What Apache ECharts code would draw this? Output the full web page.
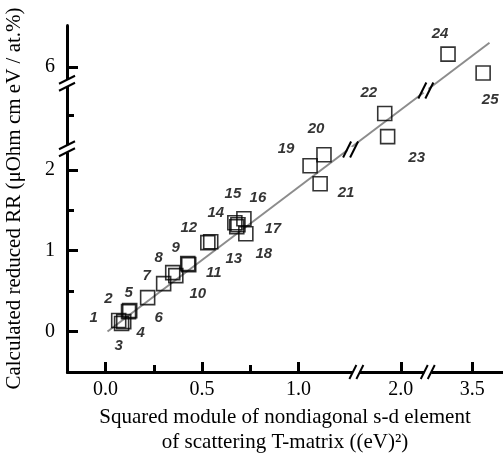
<!DOCTYPE html>
<html>
<head>
<meta charset="utf-8">
<script src="https://cdn.jsdelivr.net/npm/echarts@6.0.0/dist/echarts.min.js"></script>
<style>
    html, body {margin: 0; padding: 0; background: #fff;}
    #main {width: 503px; height: 459px;}
</style>
</head>
<body>
<div id="main"></div>
<script>
    // data
    var names = ['1', '2', '3', '4', '5', '6', '7', '8', '9', '10', '11', '12', '13',
        '14', '15', '16', '17', '18', '19', '20', '21', '22', '23', '24', '25'];
    var tSquared = [0.068, 0.119, 0.083, 0.094, 0.125, 0.218, 0.301, 0.348, 0.426, 0.364, 0.431, 0.530, 0.545,
        0.670, 0.686, 0.717, 0.680, 0.727, 1.060, 1.132, 1.112, 1.917, 1.932, 3.375, 3.557];
    var reducedRR = [0.136, 0.247, 0.099, 0.123, 0.259, 0.420, 0.593, 0.728, 0.840, 0.691, 0.827, 1.099, 1.111,
        1.346, 1.321, 1.395, 1.296, 1.210, 2.050, 2.185, 1.827, 3.525, 3.240, 6.160, 5.926];
    var fitX = [0.01, 3.59];
    var fitY = [0.0, 6.30];
    var xTicks = [0, 0.5, 1.0, 2.0, 3.5];
    var xMinorTicks = [0.25, 0.75];
    var yTicks = [0, 1, 2, 6];
    var yMinorTicks = [0.5, 1.5, 3.5];
    var xBreaks = [[1.3, 1.77], [2.14, 3.27]];
    var yBreaks = [[2.26, 3.09], [3.9, 5.8]];

    // where each number sits relative to its square (px)
    var labelOffset = [[-25, -3], [-20, -13], [-3, 22], [17, 11], [-1, -18], [11, 20], [-17, -8], [-14, -15],
        [-12, -16], [22, 18], [25, 8], [-19, -15], [23, 17], [-19, -10], [-5, -31], [14, -21], [36, 2],
        [18, 20], [-24, -17], [-8, -26], [26, 9], [-16, -21], [29, 21], [-8, -20], [7, 27]];

    var X_MIN = -0.2, X_MAX = 3.66, Y_MIN = -0.5, Y_MAX = 6.52;
    var serif = '"Liberation Serif", "DejaVu Serif", serif';

    function brk(list) {
        return list.map(function (b) {
            return {start: b[0], end: b[1], gap: 0};
        });
    }

    // "//" marks: kind 0 on x axis, 1 on y axis, 2 on the fitted line
    var breakMarks = [];
    xBreaks.forEach(function (b) { breakMarks.push([b[0], Y_MIN, 0]); });
    yBreaks.forEach(function (b) { breakMarks.push([X_MIN, b[0], 1]); });
    breakMarks.push([1.27, 2.25, 2]);
    breakMarks.push([2.13, 3.81, 2]);

    function renderBreak(params, api) {
        var p = api.coord([api.value(0), api.value(1)]);
        var kind = api.value(2);
        var children = [];
        var stroke = {stroke: '#000', lineWidth: 2};
        var i, off;
        if (kind === 0) {
            children.push({type: 'rect', shape: {x: p[0] - 3.5, y: p[1] - 3, width: 7, height: 6}, style: {fill: '#fff'}});
            for (i = 0; i < 2; i++) {
                off = i === 0 ? -3.5 : 3.5;
                children.push({type: 'line', shape: {x1: p[0] + off - 3.5, y1: p[1] + 7, x2: p[0] + off + 3.5, y2: p[1] - 7}, style: stroke});
            }
        } else if (kind === 1) {
            children.push({type: 'rect', shape: {x: p[0] - 3, y: p[1] - 3.5, width: 6, height: 7}, style: {fill: '#fff'}});
            for (i = 0; i < 2; i++) {
                off = i === 0 ? -3.5 : 3.5;
                children.push({type: 'line', shape: {x1: p[0] - 8, y1: p[1] + off + 4, x2: p[0] + 8, y2: p[1] + off - 4}, style: stroke});
            }
        } else {
            children.push({type: 'circle', shape: {cx: p[0], cy: p[1], r: 3}, style: {fill: '#fff'}});
            for (i = 0; i < 2; i++) {
                off = i === 0 ? -3.5 : 3.5;
                children.push({type: 'line', shape: {x1: p[0] + off - 4, y1: p[1] + 8, x2: p[0] + off + 4, y2: p[1] - 8}, style: stroke});
            }
        }
        return {type: 'group', children: children};
    }

    var xBase = {type: 'value', min: X_MIN, max: X_MAX, breaks: brk(xBreaks), breakArea: {show: false},
        splitLine: {show: false}, position: 'bottom', gridIndex: 0};
    var yBase = {type: 'value', min: Y_MIN, max: Y_MAX, breaks: brk(yBreaks), breakArea: {show: false},
        splitLine: {show: false}, position: 'left', gridIndex: 0};

    var chart = echarts.init(document.getElementById('main'));
    chart.setOption({
        animation: false,
        grid: {left: 67, right: 0, top: 25, bottom: 87, outerBoundsMode: 'none'},
        xAxis: [
            Object.assign({}, xBase, {
                name: 'Squared module of nondiagonal s-d element\nof scattering T-matrix ((eV)\u00b2)',
                nameLocation: 'middle', nameGap: 30,
                nameTextStyle: {fontFamily: serif, fontSize: 21, color: '#000', lineHeight: 25},
                axisLine: {show: true, onZero: false, lineStyle: {color: '#000', width: 3}},
                axisTick: {show: true, inside: true, length: 10, customValues: xTicks, lineStyle: {color: '#000', width: 3}},
                axisLabel: {customValues: xTicks, margin: 8, fontFamily: serif, fontSize: 20, color: '#000',
                    formatter: function (v) { return v.toFixed(1); }}
            }),
            Object.assign({}, xBase, {
                axisLine: {show: false, onZero: false},
                axisTick: {show: true, inside: true, length: 7, customValues: xMinorTicks, lineStyle: {color: '#000', width: 3}},
                axisLabel: {show: false}
            })
        ],
        yAxis: [
            Object.assign({}, yBase, {
                name: 'Calculated reduced RR (\u03bcOhm cm eV / at.%)',
                nameLocation: 'middle', nameGap: 42,
                nameTextStyle: {fontFamily: serif, fontSize: 21, color: '#000'},
                axisLine: {show: true, onZero: false, lineStyle: {color: '#000', width: 3}},
                axisTick: {show: true, inside: true, length: 11, customValues: yTicks, lineStyle: {color: '#000', width: 3}},
                axisLabel: {customValues: yTicks, margin: 12, fontFamily: serif, fontSize: 20, color: '#000'}
            }),
            Object.assign({}, yBase, {
                axisLine: {show: false, onZero: false},
                axisTick: {show: true, inside: true, length: 7, customValues: yMinorTicks, lineStyle: {color: '#000', width: 3}},
                axisLabel: {show: false}
            })
        ],
        series: [
            {
                type: 'line', xAxisIndex: 0, yAxisIndex: 0, symbol: 'none', z: 2,
                lineStyle: {color: '#8c8c8c', width: 2},
                data: fitX.map(function (x, i) { return [x, fitY[i]]; })
            },
            {
                type: 'scatter', xAxisIndex: 0, yAxisIndex: 0, symbol: 'rect', symbolSize: 14, z: 3,
                itemStyle: {color: 'rgba(0,0,0,0)', borderColor: '#000', borderWidth: 1.6},
                label: {
                    show: true, position: 'inside', color: '#000', fontSize: 15,
                    fontStyle: 'italic', fontWeight: 'bold', fontFamily: '"Liberation Sans", Arial, sans-serif',
                    formatter: function (p) { return names[p.dataIndex]; }
                },
                data: tSquared.map(function (x, i) {
                    return {value: [x, reducedRR[i]], label: {offset: labelOffset[i]}};
                })
            },
            {
                type: 'custom', xAxisIndex: 0, yAxisIndex: 0, z: 10, silent: true,
                renderItem: renderBreak,
                data: breakMarks
            }
        ]
    });
</script>
</body>
</html>
